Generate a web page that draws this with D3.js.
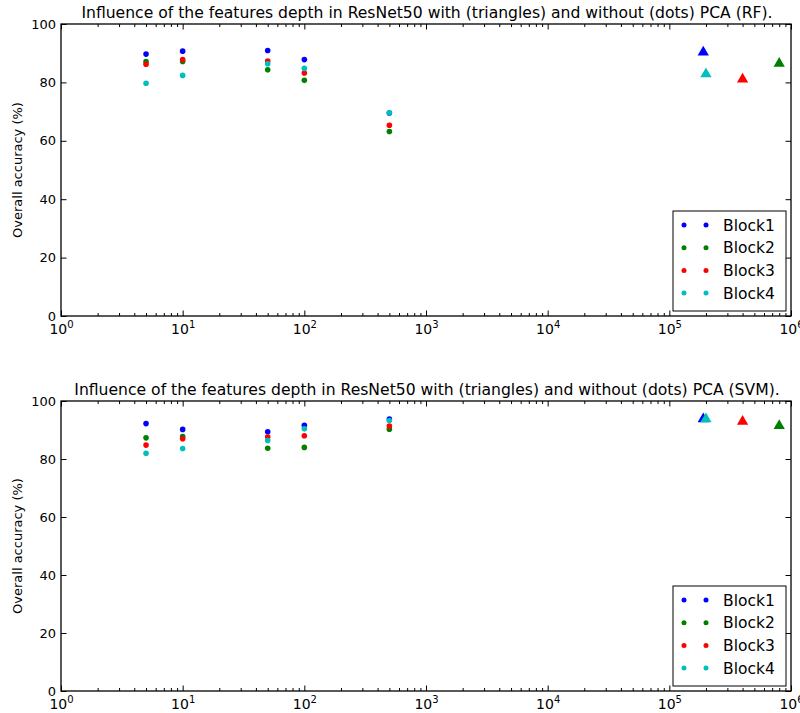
<!DOCTYPE html>
<html>
<head>
<meta charset="utf-8">
<script src="https://cdn.jsdelivr.net/npm/d3@7"></script>
<style>
  body { margin: 0; background: #fff; }
  svg text { font-family: "DejaVu Sans", sans-serif; }
</style>
</head>
<body>
<div class="chart"></div>
<script>
// feature sizes without PCA (dots) and with PCA (triangles)
const dims = [5, 10, 50, 100, 500]
const pcaDims = [190000, 800000, 400000, 200000]
const blocks = ['Block1', 'Block2', 'Block3', 'Block4']
const colors = ['#0000ff', '#008000', '#ff0000', '#00bfbf']
const yTicks = [0, 20, 40, 60, 80, 100]
const xDecades = [1, 10, 100, 1000, 10000, 100000, 1000000]

// RF accuracies, one row per block
const rfDots = [
  [89.7, 90.7, 90.9, 87.8, 69.5],
  [87.1, 87.2, 84.3, 80.7, 63.2],
  [86.2, 87.8, 87.3, 83.2, 65.3],
  [79.7, 82.4, 86.4, 84.8, 69.6]
]
const rfTriangles = [90.3, 86.5, 81.1, 82.9]

// SVM accuracies
const svmDots = [
  [92.2, 90.2, 89.4, 91.6, 93.8],
  [87.3, 87.7, 83.7, 84.0, 90.3],
  [84.8, 87.0, 87.6, 88.0, 91.4],
  [82.0, 83.6, 86.4, 90.4, 93.3]
]
const svmTriangles = [93.8, 91.5, 92.9, 93.8]

const width = 800
const height = 713

const svg = d3.select('.chart').append('svg')
  .attr('width', width)
  .attr('height', height)

const x = d3.scaleLog().domain([1, 1e6]).range([61, 791])

const minorTicks = []
xDecades.slice(0, -1).forEach(d => {
  for (let k = 2; k < 10; k++) minorTicks.push(d * k)
})

function drawPanel (title, top, bottom, dots, triangles) {
  const y = d3.scaleLinear().domain([0, 100]).range([bottom, top])
  const g = svg.append('g')

  // bottom axis with labels
  const xb = g.append('g')
    .attr('transform', `translate(0,${bottom})`)
    .call(d3.axisBottom(x).tickValues(xDecades).tickSizeInner(-5.5).tickSizeOuter(0).tickPadding(8))
  xb.selectAll('text').each(function (d) {
    const t = d3.select(this)
    t.text('10').attr('font-size', 14).attr('fill', '#000')
    t.append('tspan').text(Math.round(Math.log10(d)))
      .attr('dy', '-0.55em').attr('font-size', 10)
  })
  g.append('g')
    .attr('transform', `translate(0,${bottom})`)
    .call(d3.axisBottom(x).tickValues(minorTicks).tickSizeInner(-3).tickSizeOuter(0).tickFormat(''))
  g.append('g')
    .attr('transform', `translate(0,${top})`)
    .call(d3.axisTop(x).tickValues(xDecades).tickSizeInner(-5.5).tickSizeOuter(0).tickFormat(''))
  g.append('g')
    .attr('transform', `translate(0,${top})`)
    .call(d3.axisTop(x).tickValues(minorTicks).tickSizeInner(-3).tickSizeOuter(0).tickFormat(''))

  // y axes
  g.append('g')
    .attr('transform', 'translate(61,0)')
    .call(d3.axisLeft(y).tickValues(yTicks).tickSizeInner(-5.5).tickSizeOuter(0).tickPadding(5))
    .selectAll('text').attr('font-size', 13).attr('fill', '#000')
  g.append('g')
    .attr('transform', 'translate(791,0)')
    .call(d3.axisRight(y).tickValues(yTicks).tickSizeInner(-5.5).tickSizeOuter(0).tickFormat(''))

  g.selectAll('.domain').remove()
  g.selectAll('.tick line').attr('stroke', '#000')

  // frame
  g.append('rect')
    .attr('x', 61).attr('y', top)
    .attr('width', 730).attr('height', bottom - top)
    .attr('fill', 'none').attr('stroke', '#000').attr('stroke-width', 1.3)

  g.append('text')
    .attr('x', 427).attr('y', top - 6)
    .attr('text-anchor', 'middle')
    .attr('font-size', 15.6)
    .text(title)

  g.append('text')
    .attr('transform', `translate(22,${(top + bottom) / 2}) rotate(-90)`)
    .attr('text-anchor', 'middle')
    .attr('font-size', 13)
    .text('Overall accuracy (%)')

  const tri = d3.symbol().type(d3.symbolTriangle).size(55)

  blocks.forEach((b, i) => {
    g.selectAll(null)
      .data(dots[i])
      .enter()
      .append('circle')
      .attr('cx', (v, j) => x(dims[j]))
      .attr('cy', v => y(v))
      .attr('r', 2.8)
      .attr('fill', colors[i])
    g.append('path')
      .attr('d', tri)
      .attr('transform', `translate(${x(pcaDims[i])},${y(triangles[i])})`)
      .attr('fill', colors[i])
  })

  // legend
  const lx = 673
  const ly = bottom - 105
  const leg = g.append('g')
  leg.append('rect')
    .attr('x', lx).attr('y', ly)
    .attr('width', 113).attr('height', 100)
    .attr('fill', '#fff').attr('stroke', '#000')
  blocks.forEach((b, i) => {
    const ry = ly + 14 + i * 22.7
    leg.selectAll(null)
      .data([lx + 11, lx + 33])
      .enter()
      .append('circle')
      .attr('cx', d => d).attr('cy', ry)
      .attr('r', 2.5)
      .attr('fill', colors[i])
    leg.append('text')
      .attr('x', lx + 50).attr('y', ry)
      .attr('dy', '0.36em')
      .attr('font-size', 15.5)
      .text(b)
  })
}

drawPanel('Influence of the features depth in ResNet50 with (triangles) and without (dots) PCA (RF).', 24, 316, rfDots, rfTriangles)
drawPanel('Influence of the features depth in ResNet50 with (triangles) and without (dots) PCA (SVM).', 401, 691, svmDots, svmTriangles)
</script>
</body>
</html>
